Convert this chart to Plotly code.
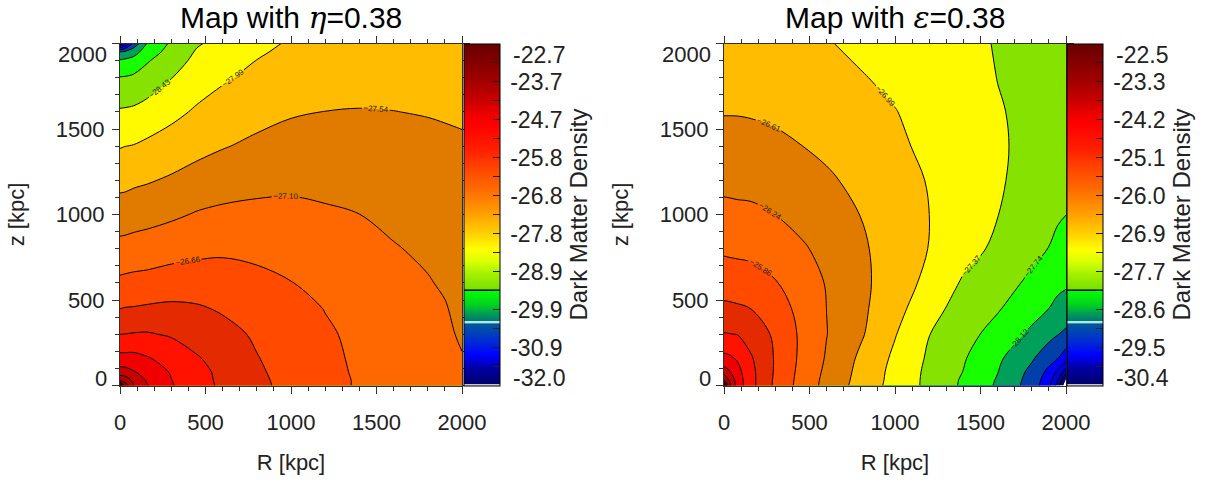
import numpy as np
import plotly.graph_objects as go

# ---------------- data ----------------
# Left panel: Map with eta = 0.38  (rows: z, columns: R)
R_eta = [0, 30, 80, 160, 300, 450, 600, 800, 1000, 1200, 1400, 1600, 1800, 1900, 2000]
z_eta = [0, 30, 80, 160, 300, 450, 600, 800, 1000, 1200, 1400, 1600, 1800, 1900, 1950, 2000]
rho_eta = [
    [-22.59, -23.77, -24.45, -24.87, -25.30, -25.60, -25.85, -26.12, -26.34, -26.53, -26.70, -26.81, -26.92, -26.98, -27.04],
    [-24.09, -24.18, -24.54, -24.94, -25.32, -25.62, -25.86, -26.13, -26.35, -26.53, -26.70, -26.81, -26.93, -26.98, -27.05],
    [-24.70, -24.73, -24.86, -25.05, -25.37, -25.64, -25.88, -26.16, -26.36, -26.55, -26.71, -26.83, -26.94, -27.00, -27.07],
    [-25.20, -25.20, -25.20, -25.30, -25.50, -25.74, -25.94, -26.20, -26.38, -26.56, -26.73, -26.85, -26.98, -27.04, -27.09],
    [-25.78, -25.77, -25.75, -25.74, -25.82, -25.96, -26.09, -26.27, -26.44, -26.61, -26.74, -26.87, -27.00, -27.06, -27.13],
    [-26.22, -26.20, -26.19, -26.16, -26.13, -26.17, -26.26, -26.39, -26.53, -26.67, -26.78, -26.90, -27.02, -27.08, -27.19],
    [-26.57, -26.55, -26.53, -26.51, -26.45, -26.43, -26.46, -26.56, -26.65, -26.75, -26.86, -26.97, -27.08, -27.14, -27.24],
    [-26.97, -26.96, -26.93, -26.90, -26.83, -26.77, -26.73, -26.75, -26.82, -26.91, -27.02, -27.08, -27.16, -27.23, -27.31],
    [-27.33, -27.32, -27.29, -27.25, -27.17, -27.07, -27.02, -26.99, -27.00, -27.05, -27.10, -27.18, -27.27, -27.32, -27.38],
    [-27.67, -27.66, -27.62, -27.58, -27.49, -27.38, -27.29, -27.23, -27.19, -27.21, -27.24, -27.30, -27.36, -27.40, -27.44],
    [-28.01, -27.99, -27.97, -27.90, -27.79, -27.67, -27.57, -27.46, -27.39, -27.37, -27.39, -27.42, -27.46, -27.49, -27.51],
    [-28.38, -28.37, -28.35, -28.27, -28.10, -27.93, -27.80, -27.68, -27.58, -27.54, -27.53, -27.54, -27.56, -27.57, -27.58],
    [-28.85, -28.84, -28.79, -28.67, -28.44, -28.19, -28.04, -27.88, -27.76, -27.70, -27.66, -27.65, -27.64, -27.64, -27.64],
    [-29.27, -29.24, -29.17, -28.91, -28.61, -28.33, -28.17, -27.98, -27.85, -27.78, -27.74, -27.70, -27.68, -27.68, -27.67],
    [-29.72, -29.62, -29.47, -29.10, -28.70, -28.39, -28.24, -28.04, -27.89, -27.82, -27.77, -27.72, -27.70, -27.70, -27.69],
    [-31.39, -31.09, -30.05, -29.28, -28.80, -28.47, -28.30, -28.10, -27.94, -27.86, -27.80, -27.75, -27.72, -27.71, -27.70],
]

# Right panel: Map with epsilon = 0.38
R_eps = [0, 30, 80, 160, 300, 450, 600, 800, 1000, 1200, 1400, 1600, 1800, 1900, 1950, 2000]
z_eps = [0, 30, 80, 160, 300, 450, 600, 800, 1000, 1200, 1400, 1600, 1800, 2000]
rho_eps = [
    [-22.36, -23.88, -24.54, -25.01, -25.56, -25.99, -26.35, -26.76, -27.12, -27.46, -27.80, -28.17, -28.66, -29.14, -29.75, -30.75],
    [-23.53, -23.99, -24.55, -25.01, -25.55, -25.98, -26.34, -26.74, -27.11, -27.46, -27.79, -28.15, -28.64, -29.09, -29.60, -30.48],
    [-24.19, -24.31, -24.62, -25.02, -25.53, -25.96, -26.31, -26.72, -27.10, -27.45, -27.75, -28.11, -28.59, -28.97, -29.32, -29.81],
    [-24.64, -24.67, -24.78, -25.08, -25.52, -25.93, -26.27, -26.68, -27.06, -27.42, -27.71, -28.05, -28.45, -28.72, -28.85, -29.08],
    [-25.09, -25.10, -25.12, -25.26, -25.55, -25.92, -26.23, -26.57, -26.97, -27.36, -27.61, -27.88, -28.19, -28.38, -28.48, -28.57],
    [-25.41, -25.42, -25.44, -25.49, -25.71, -25.95, -26.24, -26.54, -26.86, -27.24, -27.51, -27.71, -27.99, -28.12, -28.21, -28.27],
    [-25.65, -25.66, -25.68, -25.71, -25.84, -26.04, -26.26, -26.53, -26.80, -27.09, -27.41, -27.60, -27.81, -27.97, -28.03, -28.07],
    [-25.92, -25.93, -25.94, -25.96, -26.04, -26.19, -26.34, -26.56, -26.78, -27.00, -27.23, -27.44, -27.65, -27.75, -27.83, -27.90],
    [-26.14, -26.15, -26.16, -26.17, -26.24, -26.35, -26.47, -26.62, -26.81, -26.99, -27.18, -27.36, -27.55, -27.65, -27.70, -27.74],
    [-26.33, -26.33, -26.34, -26.35, -26.40, -26.48, -26.56, -26.71, -26.86, -27.01, -27.17, -27.33, -27.48, -27.53, -27.57, -27.61],
    [-26.49, -26.49, -26.50, -26.51, -26.56, -26.61, -26.69, -26.81, -26.93, -27.06, -27.20, -27.33, -27.44, -27.50, -27.53, -27.57],
    [-26.63, -26.63, -26.63, -26.64, -26.66, -26.70, -26.77, -26.91, -26.98, -27.10, -27.23, -27.35, -27.42, -27.46, -27.48, -27.51],
    [-26.71, -26.71, -26.71, -26.72, -26.74, -26.78, -26.88, -26.97, -27.06, -27.17, -27.27, -27.37, -27.41, -27.44, -27.45, -27.48],
    [-26.78, -26.78, -26.79, -26.80, -26.84, -26.89, -26.97, -27.06, -27.14, -27.22, -27.31, -27.38, -27.41, -27.43, -27.44, -27.46],
]

# contour levels: lowest level, spacing, number of intervals; labelled level index range
level_start_eta, level_step_eta = -31.969, 0.4425
level_start_eps, level_step_eps = -30.3762, 0.3762
n_intervals = 21
labelled_eta = (8, 12)   # -28.43 ... -26.66
labelled_eps = (5, 12)   # -28.50 ... -25.86

cbar_labels_eta = ['-32.0', '-30.9', '-29.9', '-28.9', '-27.8', '-26.8', '-25.8', '-24.7', '-23.7', '-22.7']
cbar_labels_eps = ['-30.4', '-29.5', '-28.6', '-27.7', '-26.9', '-26.0', '-25.1', '-24.2', '-23.3', '-22.5']
axis_ticks = [0, 500, 1000, 1500, 2000]
axis_ticklabels = ['0', '500', '1000', '1500', '2000']

titles = ['Map with <span style="font-family:DejaVu Serif"><i>η</i></span>=0.38',
          'Map with <span style="font-family:DejaVu Serif"><i>ε</i></span>=0.38']

# ---------------- styling ----------------
W, H = 1232, 487
FONT = 'Liberation Sans'
TXT = '#222222'
band_colors = ['#ffffff', '#000080', '#0000a8', '#0000d8', '#0000ff', '#0040a8', '#00a05a',
               '#18ff00', '#86e200', '#fffa00', '#ffbc00', '#e17b00', '#ff6800', '#ff4a00',
               '#e32a00', '#ff1200', '#f00000', '#c80000', '#b00000', '#980000', '#800000',
               '#700000', '#600000']
fill_scale = [[i / (len(band_colors) - 1), c] for i, c in enumerate(band_colors)]

cbar_scale = [
    [0.000, '#c8c8c8'], [0.005, '#c8c8c8'], [0.007, '#000070'], [0.05, '#0000a0'],
    [0.09, '#0000ff'], [0.135, '#0030d0'], [0.182, '#005a98'], [0.184, '#b0e8e8'],
    [0.189, '#b0e8e8'], [0.191, '#007a70'], [0.205, '#009060'], [0.237, '#00d020'],
    [0.277, '#00ff00'], [0.2785, '#000000'], [0.2815, '#000000'], [0.283, '#78e000'],
    [0.325, '#a0f000'], [0.363, '#d8ff00'], [0.398, '#ffff00'], [0.442, '#ffd400'],
    [0.485, '#ffae00'], [0.529, '#ff8c00'], [0.573, '#ff6c00'], [0.632, '#ff4800'],
    [0.690, '#ff2000'], [0.763, '#ff0000'], [0.792, '#f00000'], [0.836, '#c80000'],
    [0.895, '#a00000'], [0.953, '#800000'], [1.000, '#680000'],
]

panels = [
    dict(R=R_eta, Z=z_eta, rho=rho_eta, start=level_start_eta, step=level_step_eta,
         lab=labelled_eta, cb=cbar_labels_eta, title=titles[0], x0=120, cbx=464, ax=''),
    dict(R=R_eps, Z=z_eps, rho=rho_eps, start=level_start_eps, step=level_step_eps,
         lab=labelled_eps, cb=cbar_labels_eps, title=titles[1], x0=724, cbx=1067, ax='2'),
]

PW = 342
CBW = 36
top_px, bot_px = 43.5, 385.5
end_label_y = (55, 378)   # pixel rows of the shifted top / bottom end labels

fig = go.Figure()
layout = dict(width=W, height=H, margin=dict(l=0, r=0, t=0, b=0, autoexpand=False),
              paper_bgcolor='white', plot_bgcolor='white', showlegend=False,
              font=dict(family=FONT, color=TXT))
annotations = []


def ann(text, xpx, ypx, xanchor, size=22):
    return dict(text=text, xref='paper', yref='paper', x=xpx / W, y=(H - ypx) / H,
                xanchor=xanchor, yanchor='middle', showarrow=False,
                font=dict(size=size, family=FONT, color=TXT))


for p in panels:
    xa, ya = 'x' + p['ax'], 'y' + p['ax']
    s0, ds = p['start'], p['step']
    end = s0 + n_intervals * ds
    line_common = dict(x=p['R'], y=p['Z'], z=p['rho'], xaxis=xa, yaxis=ya,
                       autocontour=False, showscale=False, hoverinfo='skip')
    # filled bands
    fig.add_trace(go.Contour(**line_common,
        contours=dict(start=s0, end=end + ds * 1e-3, size=ds, coloring='fill', showlines=False),
        colorscale=fill_scale, line=dict(width=0, smoothing=1.0)))
    lo, hi = p['lab']
    # unlabelled lines (below and above the labelled range)
    for a, b in [(0, lo - 1), (hi + 1, n_intervals)]:
        fig.add_trace(go.Contour(**line_common,
            contours=dict(start=s0 + a * ds, end=s0 + b * ds + ds * 1e-3, size=ds, coloring='none'),
            line=dict(color='black', width=1, smoothing=1.0)))
    # labelled lines
    fig.add_trace(go.Contour(**line_common,
        contours=dict(start=s0 + lo * ds, end=s0 + hi * ds + ds * 1e-3, size=ds, coloring='none',
                      showlabels=True, labelformat='.2f',
                      labelfont=dict(size=8, color='#202020', family=FONT)),
        line=dict(color='black', width=1, smoothing=1.0)))

    # colour bar (end labels are drawn as shifted annotations, like the original)
    tv = np.linspace(s0, end, 19)
    tt = []
    for i in range(19):
        if i % 2 == 0 and 0 < i < 18:
            tt.append('\u2009' + p['cb'][i // 2])
        else:
            tt.append('')
    fig.add_trace(go.Scatter(x=[None], y=[None], mode='markers', xaxis=xa, yaxis=ya,
        hoverinfo='skip', showlegend=False,
        marker=dict(color=[s0, end], cmin=s0, cmax=end, colorscale=cbar_scale, size=0,
                    showscale=True,
                    colorbar=dict(x=p['cbx'] / W, xanchor='left', y=(H - bot_px) / H, yanchor='bottom',
                                  len=PW / H, lenmode='fraction', thickness=CBW, thicknessmode='pixels',
                                  outlinewidth=1, outlinecolor='black', xpad=0, ypad=0,
                                  tickmode='array', tickvals=tv, ticktext=tt,
                                  ticks='inside', ticklen=7, tickcolor='#202020', tickwidth=1,
                                  tickfont=dict(size=23, family=FONT, color=TXT),
                                  title=dict(text='Dark Matter Density', side='right',
                                             font=dict(size=24, family=FONT, color=TXT))))))
    lab_x = p['cbx'] + CBW + 11
    annotations.append(ann(p['cb'][-1], lab_x, end_label_y[0], 'left', 23))
    annotations.append(ann(p['cb'][0], lab_x, end_label_y[1], 'left', 23))

    axis_common = dict(range=[0, 2000], showgrid=False, zeroline=False, showline=True,
                       automargin=False,
                       linecolor='#303030', linewidth=1, mirror='allticks', ticks='outside',
                       ticklen=7, tickwidth=1, tickcolor='#303030',
                       tickmode='array', tickvals=axis_ticks,
                       minor=dict(dtick=100, ticks='outside', ticklen=4, tickcolor='#303030', tickwidth=1),
                       tickfont=dict(size=22, family=FONT, color=TXT))
    layout['xaxis' + p['ax']] = dict(axis_common, domain=[p['x0'] / W, (p['x0'] + PW) / W], anchor=ya,
                                     ticktext=axis_ticklabels, ticklabelstandoff=10,
                                     title=dict(text='R [kpc]', standoff=20,
                                                font=dict(size=22, family=FONT, color=TXT)))
    layout['yaxis' + p['ax']] = dict(axis_common, domain=[(H - bot_px) / H, (H - top_px) / H], anchor=xa,
                                     ticktext=[''] + axis_ticklabels[1:-1] + [''], ticklabelstandoff=3,
                                     title=dict(text='z [kpc]', standoff=24,
                                                font=dict(size=22, family=FONT, color=TXT)))
    # shifted end labels of the z axis
    annotations.append(ann(axis_ticklabels[-1], p['x0'] - 11, end_label_y[0], 'right'))
    annotations.append(ann(axis_ticklabels[0], p['x0'] - 11, end_label_y[1], 'right'))
    annotations.append(dict(text=p['title'], xref='paper', yref='paper',
                            x=(p['x0'] + PW / 2) / W, y=(H - 18) / H, xanchor='center', yanchor='middle',
                            showarrow=False, font=dict(size=30, family=FONT, color='black')))

layout['annotations'] = annotations
fig.update_layout(**layout)
fig.write_html('out.html')
